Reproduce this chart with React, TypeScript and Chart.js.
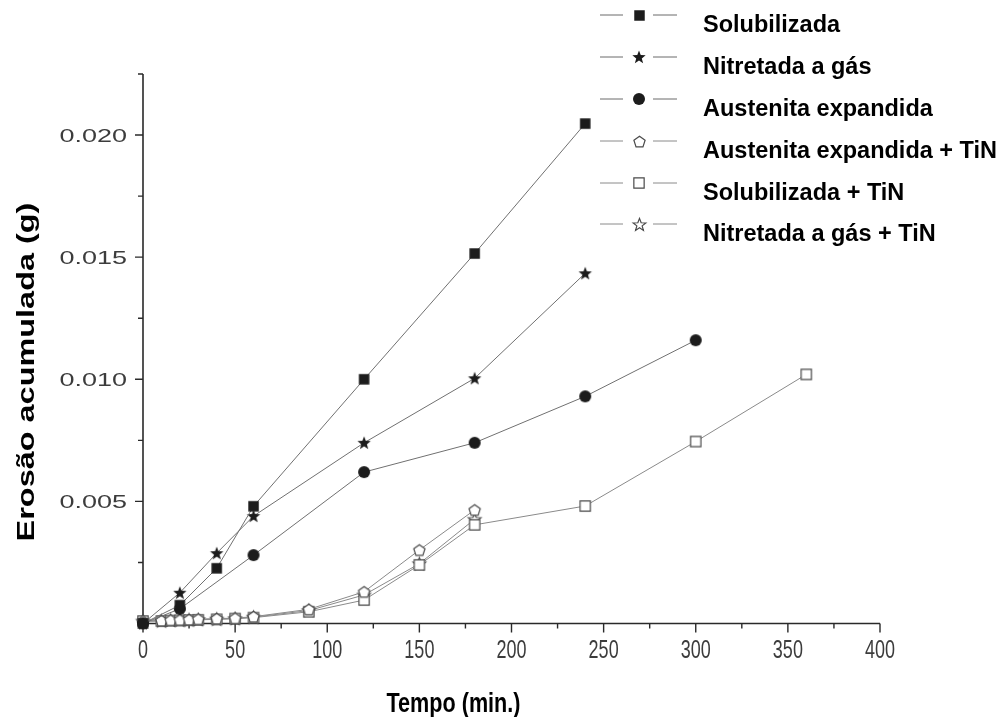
import React, { useEffect, useRef } from "react";
import { Chart, registerables } from "chart.js";

Chart.register(...registerables);

// ---------- data ----------
const solTime = [0, 20, 40, 60, 120, 180, 240];
const solVals = [0, 0.00075, 0.00226, 0.0048, 0.01, 0.01515, 0.02047];

const nitTime = [0, 20, 40, 60, 120, 180, 240];
const nitVals = [0, 0.00126, 0.00288, 0.0044, 0.0074, 0.01004, 0.01434];

const ausTime = [0, 20, 60, 120, 180, 240, 300];
const ausVals = [0, 0.0006, 0.0028, 0.0062, 0.0074, 0.0093, 0.0116];

const ausTinTime = [0, 10, 15, 20, 25, 30, 40, 50, 60, 90, 120, 150, 180];
const ausTinVals = [0.0001, 0.00012, 0.00014, 0.00015, 0.00016, 0.00018, 0.0002, 0.00022, 0.00028, 0.00058, 0.0013, 0.00301, 0.00465];

const solTinTime = [0, 10, 15, 20, 25, 30, 40, 50, 60, 90, 120, 150, 180, 240, 300, 360];
const solTinVals = [0.0001, 0.0001, 0.00012, 0.00013, 0.00014, 0.00015, 0.00017, 0.0002, 0.00024, 0.00048, 0.00096, 0.0024, 0.00404, 0.00481, 0.00745, 0.0102];

const nitTinTime = [0, 10, 15, 20, 25, 30, 40, 50, 60, 90, 120, 150, 180];
const nitTinVals = [0.0001, 0.00011, 0.00013, 0.00014, 0.00015, 0.00016, 0.00018, 0.0002, 0.00026, 0.00053, 0.00117, 0.00245, 0.00427];

const seriesNames = [
  "Solubilizada",
  "Nitretada a gás",
  "Austenita expandida",
  "Austenita expandida + TiN",
  "Solubilizada + TiN",
  "Nitretada a gás + TiN",
];

const xTickValues = [0, 50, 100, 150, 200, 250, 300, 350, 400];
const xTickLabels = ["0", "50", "100", "150", "200", "250", "300", "350", "400"];
const yTickValues = [0.005, 0.01, 0.015, 0.02];
const yTickLabels = ["0.005", "0.010", "0.015", "0.020"];

const xTitle = "Tempo (min.)";
const yTitle = "Erosão acumulada (g)";

// ---------- markers ----------
type Kind = "square" | "circle" | "star" | "pentagon";

function makeMarker(kind: Kind, size: number, open: boolean): HTMLCanvasElement {
  const pad = 2;
  const S = Math.ceil(size + pad * 2);
  const c = document.createElement("canvas");
  c.width = S;
  c.height = S;
  const ctx = c.getContext("2d")!;
  const cx = S / 2;
  const cy = S / 2;
  const r = size / 2 - (open ? 0.6 : 0);
  ctx.beginPath();
  if (kind === "square") {
    ctx.rect(cx - r, cy - r, 2 * r, 2 * r);
  } else if (kind === "circle") {
    ctx.arc(cx, cy, r, 0, Math.PI * 2);
  } else if (kind === "star") {
    for (let i = 0; i < 10; i++) {
      const rr = i % 2 === 0 ? r : r * 0.42;
      const a = -Math.PI / 2 + (i * Math.PI) / 5;
      const px = cx + rr * Math.cos(a);
      const py = cy + 0.5 + rr * Math.sin(a);
      if (i === 0) ctx.moveTo(px, py);
      else ctx.lineTo(px, py);
    }
    ctx.closePath();
  } else {
    for (let i = 0; i < 5; i++) {
      const a = -Math.PI / 2 + (i * 2 * Math.PI) / 5;
      const px = cx + r * Math.cos(a);
      const py = cy + 0.6 + r * Math.sin(a);
      if (i === 0) ctx.moveTo(px, py);
      else ctx.lineTo(px, py);
    }
    ctx.closePath();
  }
  if (open) {
    ctx.fillStyle = "#ffffff";
    ctx.fill();
    ctx.strokeStyle = "#4a4a4a";
    ctx.lineWidth = 1.2;
    ctx.stroke();
  } else {
    ctx.fillStyle = "#1c1c1c";
    ctx.fill();
  }
  return c;
}

function scaledText(
  ctx: CanvasRenderingContext2D,
  text: string,
  x: number,
  y: number,
  sx: number,
  sy: number,
  align: CanvasTextAlign,
  rot = 0
) {
  ctx.save();
  ctx.translate(x, y);
  if (rot) ctx.rotate(rot);
  ctx.scale(sx, sy);
  ctx.textAlign = align;
  ctx.textBaseline = "alphabetic";
  ctx.fillText(text, 0, 0);
  ctx.restore();
}

export default function App() {
  const ref = useRef<HTMLCanvasElement | null>(null);

  useEffect(() => {
    document.body.style.margin = "0";
    const canvas = ref.current;
    if (!canvas) return;

    const markers = [
      makeMarker("square", 10.5, false),
      makeMarker("star", 14, false),
      makeMarker("circle", 12, false),
      makeMarker("pentagon", 13, true),
      makeMarker("square", 11.5, true),
      makeMarker("star", 14.5, true),
    ];

    const times = [solTime, nitTime, ausTime, ausTinTime, solTinTime, nitTinTime];
    const vals = [solVals, nitVals, ausVals, ausTinVals, solTinVals, nitTinVals];
    const lineColors = ["#707070", "#707070", "#707070", "#8a8a8a", "#8a8a8a", "#8a8a8a"];

    const datasets = seriesNames.map((name, i) => ({
      label: name,
      data: times[i].map((t, j) => ({ x: t, y: vals[i][j] })),
      showLine: true,
      borderColor: lineColors[i],
      borderWidth: 1,
      pointStyle: markers[i] as any,
      pointRadius: 6,
      clip: false as any,
    }));

    const axesPlugin = {
      id: "customAxes",
      beforeDatasetsDraw(chart: any) {
        const { ctx, chartArea } = chart;
        const xs = chart.scales.x;
        const ys = chart.scales.y;
        const { left, right, top, bottom } = chartArea;
        ctx.save();
        ctx.strokeStyle = "#2a2a2a";
        ctx.lineWidth = 1.6;
        ctx.beginPath();
        ctx.moveTo(left, top);
        ctx.lineTo(left, bottom);
        ctx.lineTo(right, bottom);
        ctx.stroke();
        ctx.lineWidth = 1.4;
        ctx.beginPath();
        ys.ticks.forEach((t: any) => {
          const k = Math.round(t.value / 0.0025);
          if (k === 0) return;
          const py = ys.getPixelForValue(t.value);
          const len = k % 2 === 0 ? 8 : 5;
          ctx.moveTo(left, py);
          ctx.lineTo(left - len, py);
        });
        xs.ticks.forEach((t: any) => {
          const k = Math.round(t.value / 25);
          const px = xs.getPixelForValue(t.value);
          const len = k % 2 === 0 ? 9 : 5;
          ctx.moveTo(px, bottom);
          ctx.lineTo(px, bottom + len);
        });
        ctx.stroke();

        // tick labels
        ctx.fillStyle = "#3c3c3c";
        ctx.font = "18px 'Liberation Sans', Arial, sans-serif";
        yTickValues.forEach((v, i) => {
          const py = ys.getPixelForValue(v);
          scaledText(ctx, yTickLabels[i], left - 16, py + 6.5, 1.5, 1, "right");
        });
        ctx.font = "25px 'Liberation Sans', Arial, sans-serif";
        xTickValues.forEach((v, i) => {
          const px = xs.getPixelForValue(v);
          scaledText(ctx, xTickLabels[i], px, bottom + 34, 0.72, 1, "center");
        });

        // titles
        ctx.fillStyle = "#000000";
        ctx.font = "bold 27px 'Liberation Sans', Arial, sans-serif";
        scaledText(ctx, xTitle, (left + right) / 2 - 58, 712, 0.8, 1, "center");
        ctx.font = "bold 23px 'Liberation Sans', Arial, sans-serif";
        scaledText(ctx, yTitle, 34, 372, 1.41, 1, "center", -Math.PI / 2);
        ctx.restore();
      },
      afterDraw(chart: any) {
        const { ctx } = chart;
        ctx.save();
        const rowMarkY = [15, 57, 99, 141, 183, 224];
        seriesNames.forEach((name, i) => {
          const my = rowMarkY[i];
          ctx.strokeStyle = i < 3 ? "#6a6a6a" : "#8a8a8a";
          ctx.lineWidth = 1;
          ctx.beginPath();
          ctx.moveTo(600, my);
          ctx.lineTo(623, my);
          ctx.moveTo(653, my);
          ctx.lineTo(677, my);
          ctx.stroke();
          const m = markers[i];
          ctx.drawImage(m, Math.round(639 - m.width / 2), Math.round(my - m.height / 2));
          ctx.fillStyle = "#000000";
          ctx.font = "bold 23.5px 'Liberation Sans', Arial, sans-serif";
          ctx.textAlign = "left";
          ctx.textBaseline = "alphabetic";
          ctx.fillText(name, 703, my + 17);
        });
        ctx.restore();
      },
    };

    const chart = new Chart(canvas, {
      type: "scatter",
      data: { datasets: datasets as any },
      options: {
        animation: false,
        responsive: false,
        devicePixelRatio: 1,
        layout: { padding: { left: 0, right: 125, top: 74, bottom: 0 } },
        plugins: {
          legend: { display: false },
          tooltip: { enabled: false },
        },
        scales: {
          x: {
            type: "linear",
            min: 0,
            max: 400,
            ticks: { display: false, stepSize: 25 },
            grid: { display: false },
            border: { display: false },
            afterFit: (s: any) => {
              s.height = 93.5;
            },
          },
          y: {
            type: "linear",
            min: 0,
            max: 0.0225,
            ticks: { display: false, stepSize: 0.0025 },
            grid: { display: false },
            border: { display: false },
            afterFit: (s: any) => {
              s.width = 143;
            },
          },
        },
      },
      plugins: [axesPlugin],
    });

    return () => chart.destroy();
  }, []);

  return (
    <div style={{ width: 1005, height: 717, background: "#ffffff" }}>
      <canvas ref={ref} width={1005} height={717} style={{ display: "block" }} />
    </div>
  );
}
